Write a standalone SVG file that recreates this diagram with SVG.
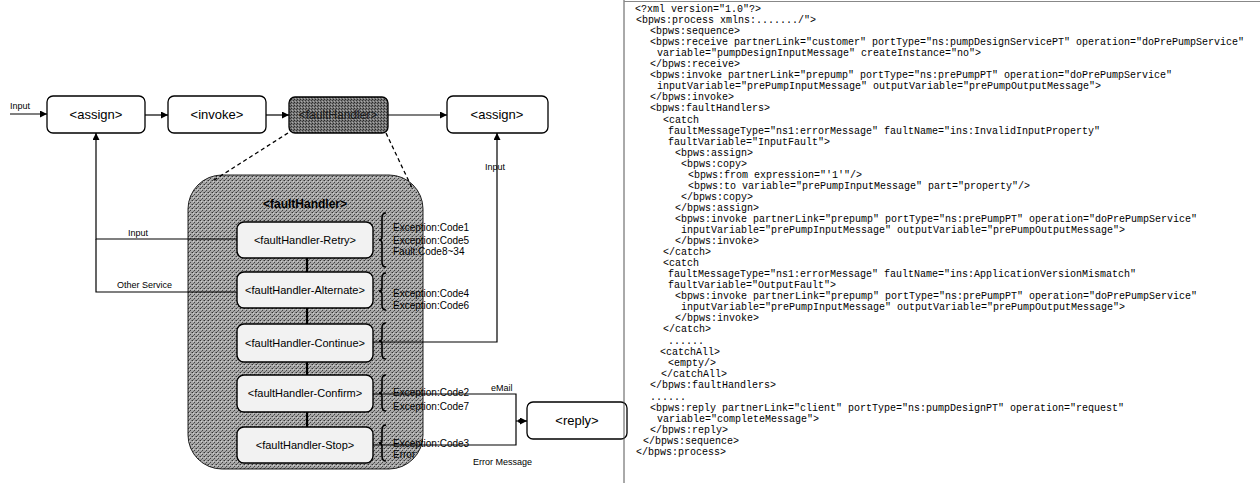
<svg xmlns="http://www.w3.org/2000/svg" width="1260" height="483" viewBox="0 0 1260 483">
<style>
.box{fill:#fff;stroke:#000;stroke-width:1.3}
.ibox{fill:#f2f2f2;stroke:#000;stroke-width:1.4}
.t13{font-family:"Liberation Sans",Arial,sans-serif;font-size:13px;fill:#000;text-anchor:middle}
.t11{font-family:"Liberation Sans",Arial,sans-serif;font-size:11px;fill:#000;text-anchor:middle}
.lbl{font-family:"Liberation Sans",Arial,sans-serif;font-size:9px;fill:#000}
.exc{font-family:"Liberation Sans",Arial,sans-serif;font-size:10px;fill:#000}
.ln{fill:none;stroke:#000;stroke-width:1.2}
.dash{fill:none;stroke:#000;stroke-width:1.3;stroke-dasharray:4 3}
.brace{fill:none;stroke:#000;stroke-width:1.6}
.code{font-family:"Liberation Mono","Courier New",monospace;font-size:10px;fill:#000;white-space:pre}
</style>
<defs>
<marker id="arr" viewBox="0 0 10 10" refX="10" refY="5" markerWidth="7" markerHeight="7" orient="auto" markerUnits="userSpaceOnUse">
<path d="M0,0 L10,5 L0,10 z" fill="#000"/>
</marker>
<pattern id="stip" width="4" height="4" patternUnits="userSpaceOnUse">
<rect width="4" height="4" fill="#a8a8a8"/>
<rect x="0" y="0" width="1" height="1" fill="#333"/>
<rect x="2" y="2" width="1" height="1" fill="#444"/>
<rect x="3" y="0" width="1" height="1" fill="#777"/>
<rect x="1" y="3" width="1" height="1" fill="#666"/>
<rect x="1" y="1" width="1" height="1" fill="#d0d0d0"/>
</pattern>
<pattern id="stipd" width="3" height="3" patternUnits="userSpaceOnUse">
<rect width="3" height="3" fill="#767676"/>
<rect x="0" y="0" width="1" height="1" fill="#2a2a2a"/>
<rect x="2" y="1" width="1" height="1" fill="#3a3a3a"/>
<rect x="1" y="2" width="1" height="1" fill="#aaa"/>
</pattern>
</defs>

<rect width="1260" height="483" fill="#fff"/>

<!-- container -->
<g id="faultHandlerContainer">
<rect x="188" y="175" width="235" height="294" rx="34" fill="url(#stip)" stroke="#222" stroke-width="1"/>
<text x="305" y="208" class="t13" font-weight="bold" style="font-size:12px">&lt;faultHandler&gt;</text>
<path d="M307,258 V272 M307,308 V324 M307,362 V375 M307,412 V427" stroke="#000" stroke-width="2.2" fill="none"/>
</g>

<g id="connectors">
<path class="ln" d="M10,114 H47" marker-end="url(#arr)"/>
<path class="ln" d="M145,115 H168" marker-end="url(#arr)"/>
<path class="ln" d="M266,115 H289" marker-end="url(#arr)"/>
<path class="ln" d="M388,115 H447" marker-end="url(#arr)"/>
<path class="ln" d="M237,239 H96 V133" marker-end="url(#arr)"/>
<path class="ln" d="M236,292 H96 V239"/>
<path class="ln" d="M373,342 H497 V133" marker-end="url(#arr)"/>
<path class="ln" d="M373,394 H516 V445 H373"/>
<path class="ln" d="M516,421 H527" marker-end="url(#arr)"/>
<circle cx="520" cy="421" r="2" fill="#000"/>
<path class="dash" d="M288,133 L211,182"/>
<path class="dash" d="M386,133 L413,190"/>
<path class="brace" d="M386,213 Q382,213 382,218 V237 Q382,240 379,240 Q382,240 382,243 V262 Q382,267 386,267"/>
<path class="brace" d="M386,273 Q382,273 382,278 V288 Q382,291 379,291 Q382,291 382,294 V305 Q382,310 386,310"/>
<path class="brace" d="M386,323 Q382,323 382,328 V338 Q382,341 379,341 Q382,341 382,344 V354 Q382,359 386,359"/>
<path class="brace" d="M386,375 Q382,375 382,380 V390 Q382,393 379,393 Q382,393 382,396 V406 Q382,411 386,411"/>
<path class="brace" d="M386,425 Q382,425 382,430 V440 Q382,443 379,443 Q382,443 382,446 V456 Q382,461 386,461"/>
<text class="lbl" x="10" y="109">Input</text>
<text class="lbl" x="128" y="236">Input</text>
<text class="lbl" x="117" y="288">Other Service</text>
<text class="lbl" x="485" y="170">Input</text>
<text class="lbl" x="491" y="391">eMail</text>
<text class="lbl" x="473" y="465">Error Message</text>
<text class="exc" x="393" y="231">Exception:Code1</text>
<text class="exc" x="393" y="244">Exception:Code5</text>
<text class="exc" x="393" y="255">Fault:Code8~34</text>
<text class="exc" x="393" y="297">Exception:Code4</text>
<text class="exc" x="393" y="309">Exception:Code6</text>
<text class="exc" x="393" y="396">Exception:Code2</text>
<text class="exc" x="393" y="410">Exception:Code7</text>
<text class="exc" x="393" y="447">Exception:Code3</text>
<text class="exc" x="393" y="458">Error</text>
</g>

<g id="assign1"><rect class="box" x="47" y="96" width="98" height="37" rx="6"/><text class="t13" x="96" y="119">&lt;assign&gt;</text></g>
<g id="invoke"><rect class="box" x="168" y="96" width="98" height="37" rx="6"/><text class="t13" x="217" y="119">&lt;invoke&gt;</text></g>
<g id="faultHandler"><rect x="289" y="97" width="99" height="36" rx="6" fill="url(#stipd)" stroke="#000" stroke-width="1.3"/><text class="t13" x="338" y="119" style="font-size:12px;fill:#1a1a1a">&lt;faultHandler&gt;</text></g>
<g id="assign2"><rect class="box" x="447" y="96" width="101" height="37" rx="6"/><text class="t13" x="497" y="119">&lt;assign&gt;</text></g>
<g id="reply"><rect class="box" x="527" y="402" width="100" height="37" rx="6"/><text class="t13" x="577" y="425">&lt;reply&gt;</text></g>

<g id="retry"><rect class="ibox" x="237" y="222" width="136" height="36" rx="7"/><text class="t11" x="305" y="244">&lt;faultHandler-Retry&gt;</text></g>
<g id="alternate"><rect class="ibox" x="237" y="272" width="136" height="36" rx="7"/><text class="t11" x="305" y="294">&lt;faultHandler-Alternate&gt;</text></g>
<g id="continue"><rect class="ibox" x="237" y="324" width="136" height="38" rx="7"/><text class="t11" x="305" y="347">&lt;faultHandler-Continue&gt;</text></g>
<g id="confirm"><rect class="ibox" x="237" y="375" width="136" height="37" rx="7"/><text class="t11" x="305" y="397">&lt;faultHandler-Confirm&gt;</text></g>
<g id="stop"><rect class="ibox" x="237" y="427" width="136" height="36" rx="7"/><text class="t11" x="305" y="449">&lt;faultHandler-Stop&gt;</text></g>

<g id="codePanel">
<path d="M624,0 V483" stroke="#555" stroke-width="1"/>
<path d="M624,1.5 H1260" stroke="#888" stroke-width="1"/>
<text class="code" x="635" y="12">&lt;?xml version="1.0"?&gt;</text>
<text class="code" x="636" y="23">&lt;bpws:process xmlns:......./"&gt;</text>
<text class="code" x="650" y="34">&lt;bpws:sequence&gt;</text>
<text class="code" x="650" y="45">&lt;bpws:receive partnerLink="customer" portType="ns:pumpDesignServicePT" operation="doPrePumpService"</text>
<text class="code" x="657" y="56">variable="pumpDesignInputMessage" createInstance="no"&gt;</text>
<text class="code" x="650" y="67">&lt;/bpws:receive&gt;</text>
<text class="code" x="650" y="78">&lt;bpws:invoke partnerLink="prepump" portType="ns:prePumpPT" operation="doPrePumpService"</text>
<text class="code" x="657" y="89">inputVariable="prePumpInputMessage" outputVariable="prePumpOutputMessage"&gt;</text>
<text class="code" x="650" y="100">&lt;/bpws:invoke&gt;</text>
<text class="code" x="650" y="111">&lt;bpws:faultHandlers&gt;</text>
<text class="code" x="663" y="123">&lt;catch</text>
<text class="code" x="668" y="134">faultMessageType="ns1:errorMessage" faultName="ins:InvalidInputProperty"</text>
<text class="code" x="668" y="145">faultVariable="InputFault"&gt;</text>
<text class="code" x="675" y="156">&lt;bpws:assign&gt;</text>
<text class="code" x="681" y="167">&lt;bpws:copy&gt;</text>
<text class="code" x="688" y="178">&lt;bpws:from expression="'1'"/&gt;</text>
<text class="code" x="688" y="189">&lt;bpws:to variable="prePumpInputMessage" part="property"/&gt;</text>
<text class="code" x="681" y="200">&lt;/bpws:copy&gt;</text>
<text class="code" x="675" y="211">&lt;/bpws:assign&gt;</text>
<text class="code" x="675" y="222">&lt;bpws:invoke partnerLink="prepump" portType="ns:prePumpPT" operation="doPrePumpService"</text>
<text class="code" x="681" y="233">inputVariable="prePumpInputMessage" outputVariable="prePumpOutputMessage"&gt;</text>
<text class="code" x="675" y="244">&lt;/bpws:invoke&gt;</text>
<text class="code" x="663" y="255">&lt;/catch&gt;</text>
<text class="code" x="663" y="266">&lt;catch</text>
<text class="code" x="668" y="277">faultMessageType="ns1:errorMessage" faultName="ins:ApplicationVersionMismatch"</text>
<text class="code" x="668" y="288">faultVariable="OutputFault"&gt;</text>
<text class="code" x="675" y="299">&lt;bpws:invoke partnerLink="prepump" portType="ns:prePumpPT" operation="doPrePumpService"</text>
<text class="code" x="681" y="310">inputVariable="prePumpInputMessage" outputVariable="prePumpOutputMessage"&gt;</text>
<text class="code" x="675" y="321">&lt;/bpws:invoke&gt;</text>
<text class="code" x="663" y="332">&lt;/catch&gt;</text>
<text class="code" x="668" y="344">......</text>
<text class="code" x="660" y="355">&lt;catchAll&gt;</text>
<text class="code" x="668" y="366">&lt;empty/&gt;</text>
<text class="code" x="661" y="377">&lt;/catchAll&gt;</text>
<text class="code" x="650" y="388">&lt;/bpws:faultHandlers&gt;</text>
<text class="code" x="650" y="400">......</text>
<text class="code" x="650" y="411">&lt;bpws:reply partnerLink="client" portType="ns:pumpDesignPT" operation="request"</text>
<text class="code" x="657" y="422">variable="completeMessage"&gt;</text>
<text class="code" x="650" y="433">&lt;/bpws:reply&gt;</text>
<text class="code" x="643" y="444">&lt;/bpws:sequence&gt;</text>
<text class="code" x="636" y="455">&lt;/bpws:process&gt;</text>
</g>
</svg>
